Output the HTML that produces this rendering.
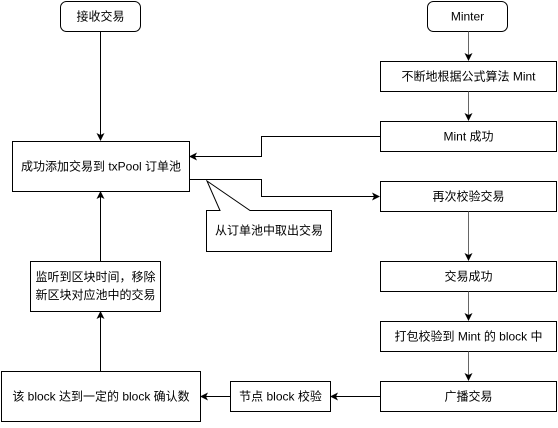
<!DOCTYPE html><html><head><meta charset="utf-8"><style>
body{margin:0;background:#fff;}
svg text{font-family:"Liberation Sans","Noto Sans CJK SC",sans-serif;font-size:12px;fill:#000;text-anchor:middle;dominant-baseline:central;}
</style></head><body>
<svg width="558" height="423" xmlns="http://www.w3.org/2000/svg">
<defs><marker id="a" markerWidth="8" markerHeight="8" refX="7" refY="4" orient="auto" markerUnits="userSpaceOnUse"><path d="M0,0 L8,4 L0,8 L2,4 Z" fill="#000"/></marker></defs>
<g fill="#fff" stroke="#000" stroke-width="1">
<rect x="60.5" y="1.5" width="80" height="30" rx="6"/>
<rect x="427.5" y="1.5" width="80" height="30" rx="6"/>
<rect x="380.5" y="61.5" width="176" height="30"/>
<rect x="380.5" y="121.5" width="176" height="30"/>
<rect x="12.5" y="141.5" width="177" height="50"/>
<rect x="380.5" y="181.5" width="176" height="30"/>
<path d="M206.5,210.5 H220 L207,181 L250,210.5 H331.5 V251.5 H206.5 Z"/>
<rect x="30.5" y="261.5" width="130" height="50"/>
<rect x="380.5" y="261.5" width="176" height="30"/>
<rect x="380.5" y="321.5" width="176" height="30"/>
<rect x="1.5" y="371.5" width="199" height="50"/>
<rect x="230.5" y="381.5" width="100" height="30"/>
<rect x="380.5" y="381.5" width="176" height="30"/>
</g>
<g fill="none" stroke="#000" stroke-width="1" marker-end="url(#a)">
<path d="M100.5,31.5 V140"/>
<path d="M468.5,31.5 V60" stroke="#666"/>
<path d="M468.5,91.5 V120" stroke="#666"/>
<path d="M380.5,136.5 H261.5 V156.5 H190"/>
<path d="M189.5,179.5 H261.5 V196.5 H379"/>
<path d="M468.5,211.5 V260" stroke="#666"/>
<path d="M468.5,291.5 V320" stroke="#666"/>
<path d="M468.5,351.5 V380" stroke="#666"/>
<path d="M380.5,396.5 H331"/>
<path d="M230.5,396.5 H201"/>
<path d="M100.5,371.5 V312"/>
<path d="M100.5,261.5 V192"/>
</g>
<text x="100.5" y="16.5">接收交易</text>
<text x="467.5" y="16.5">Minter</text>
<text x="468.5" y="76.5">不断地根据公式算法 Mint</text>
<text x="468.5" y="136.5">Mint 成功</text>
<text x="101" y="166.5">成功添加交易到 txPool 订单池</text>
<text x="468.5" y="196.5">再次校验交易</text>
<text x="269" y="230.5">从订单池中取出交易</text>
<text x="95.5" y="277">监听到区块时间，移除</text>
<text x="95.5" y="295">新区块对应池中的交易</text>
<text x="468.5" y="276.5">交易成功</text>
<text x="468.5" y="336.5">打包校验到 Mint 的 block 中</text>
<text x="101" y="396.5">该 block 达到一定的 block 确认数</text>
<text x="280.5" y="396.5">节点 block 校验</text>
<text x="468.5" y="396.5">广播交易</text>
</svg>
</body></html>
